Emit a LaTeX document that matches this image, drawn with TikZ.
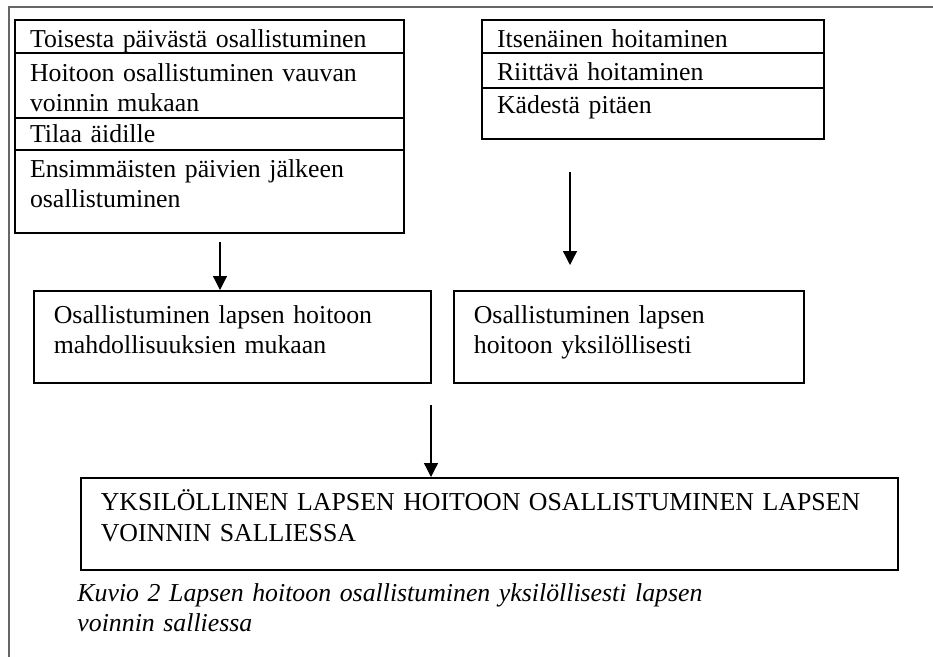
\documentclass[tikz,border=0pt]{standalone}
\usepackage{fontspec}
\setmainfont{Liberation Serif}
\usetikzlibrary{arrows.meta}
\begin{document}
\begin{tikzpicture}[x=0.465pt, y=-0.465pt,
    solu/.style={draw, line width=0.9pt, anchor=north west, inner xsep=7pt, inner ysep=0pt,
      align=left, font=\fontsize{12}{13.8}\selectfont},
    laatikko/.style={solu, line width=0.8pt, inner xsep=9.3pt},
    nuoli/.style={-{Triangle[length=6.5pt, width=6.5pt]}, line width=0.6pt}]
  \useasboundingbox (0,0) rectangle (933,657);
  \draw[line width=1pt, gray!80!black] (9,657) -- (9,7) -- (933,7);
  \node[solu, text width=166.9pt, text height=13pt, text depth=2.3pt] (toisesta) at (14,19) {Toisesta päivästä osallistuminen};
  \node[solu, text width=166.9pt, text height=13.5pt, text depth=16.7pt] (vauvan) at (14,52) {Hoitoon osallistuminen vauvan\\voinnin mukaan};
  \node[solu, text width=166.9pt, text height=11.2pt, text depth=3.7pt] (tilaa) at (14,117) {Tilaa äidille};
  \node[solu, text width=166.9pt, text height=13pt, text depth=25.6pt] (ensimmaiset) at (14,149) {Ensimmäisten päivien jälkeen\\osallistuminen};
  \node[solu, text width=145pt, text height=13pt, text depth=2.3pt] (itsenainen) at (481,19) {Itsenäinen hoitaminen};
  \node[solu, text width=145pt, text height=13pt, text depth=3.3pt] (riittava) at (481,52) {Riittävä hoitaminen};
  \node[solu, text width=145pt, text height=12.1pt, text depth=11.6pt] (kadesta) at (481,87) {Kädestä pitäen};
  \node[laatikko, text width=166pt, text height=15.3pt, text depth=27.4pt] (mahdollisuudet) at (33,290) {Osallistuminen lapsen hoitoon\\mahdollisuuksien mukaan};
  \node[laatikko, text width=144.2pt, text height=15.3pt, text depth=27.4pt] (yksilollisesti) at (453,290) {Osallistuminen lapsen\\hoitoon yksilöllisesti};
  \node[laatikko, text width=361.3pt, text height=15.3pt, text depth=27.4pt, font=\fontsize{12}{14.4}\selectfont] (salliessa) at (80,477) {YKSILÖLLINEN LAPSEN HOITOON OSALLISTUMINEN LAPSEN\\VOINNIN SALLIESSA};
  \node[anchor=base west, inner sep=0pt, text width=320pt, align=left, font=\fontsize{12}{14.4}\selectfont\itshape] (kuvio) at (77,601) {Kuvio 2 Lapsen hoitoon osallistuminen yksilöllisesti lapsen\\voinnin salliessa};
  \coordinate (vasenalku) at (220,242);
  \coordinate (oikeaalku) at (570,172);
  \coordinate (oikealoppu) at (570,265);
  \coordinate (alaalku) at (431,405);
  \draw[nuoli] (vasenalku) -- (vasenalku |- mahdollisuudet.north);
  \draw[nuoli] (oikeaalku) -- (oikealoppu);
  \draw[nuoli] (alaalku) -- (alaalku |- salliessa.north);
\end{tikzpicture}
\end{document}
